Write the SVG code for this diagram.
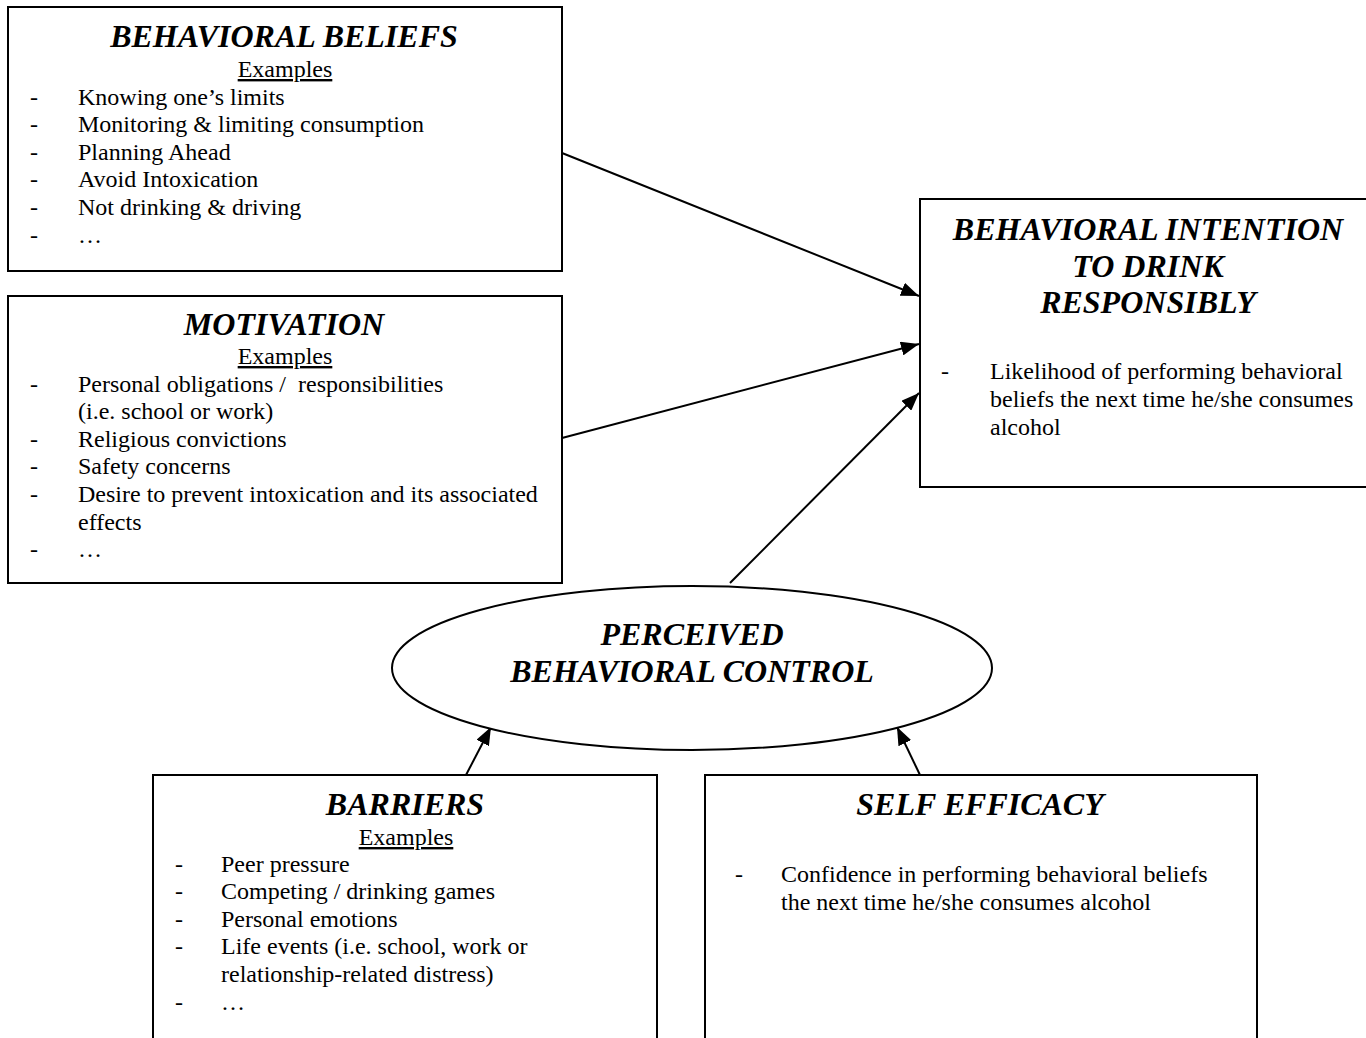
<svg xmlns="http://www.w3.org/2000/svg" width="1366" height="1038" viewBox="0 0 1366 1038">
<style>
.box{fill:#fff;stroke:#000;stroke-width:2}
.t{font-family:"Liberation Serif",serif;font-weight:bold;font-style:italic;font-size:32px;text-anchor:middle}
.b{font-family:"Liberation Serif",serif;font-size:24px}
.ex{font-family:"Liberation Serif",serif;font-size:24px;text-anchor:middle;text-decoration:underline}
.c{stroke:#000;stroke-width:2;fill:none;marker-end:url(#ah)}
</style>
<defs>
<marker id="ah" markerWidth="18" markerHeight="14" refX="18" refY="7" orient="auto" markerUnits="userSpaceOnUse" viewBox="0 0 18 14">
<path d="M0,0 L18,7 L0,14 Z" fill="#000"/>
</marker>
</defs>
<rect width="1366" height="1038" fill="#fff"/>
<g id="connectors">
<line class="c" x1="562" y1="153" x2="919" y2="296"/>
<line class="c" x1="562" y1="438" x2="919" y2="344"/>
<line class="c" x1="730" y1="583" x2="919" y2="393"/>
<line class="c" x1="466" y1="775" x2="491" y2="727"/>
<line class="c" x1="920" y1="775" x2="897" y2="727"/>
</g>
<g id="behavioral-beliefs">
<rect class="box" x="8" y="7" width="554" height="264"/>
<text class="t" x="284" y="47">BEHAVIORAL BELIEFS</text>
<text class="ex" x="285" y="77">Examples</text>
<g class="b">
<text x="30" y="105">-</text><text x="78" y="105">Knowing one’s limits</text>
<text x="30" y="132">-</text><text x="78" y="132">Monitoring &amp; limiting consumption</text>
<text x="30" y="160">-</text><text x="78" y="160">Planning Ahead</text>
<text x="30" y="187">-</text><text x="78" y="187">Avoid Intoxication</text>
<text x="30" y="215">-</text><text x="78" y="215">Not drinking &amp; driving</text>
<text x="30" y="243">-</text><text x="78" y="243">…</text>
</g>
</g>
<g id="motivation">
<rect class="box" x="8" y="296" width="554" height="287"/>
<text class="t" x="284" y="335">MOTIVATION</text>
<text class="ex" x="285" y="364">Examples</text>
<g class="b">
<text x="30" y="392">-</text><text x="78" y="392" xml:space="preserve">Personal obligations /  responsibilities</text>
<text x="78" y="419">(i.e. school or work)</text>
<text x="30" y="447">-</text><text x="78" y="447">Religious convictions</text>
<text x="30" y="474">-</text><text x="78" y="474">Safety concerns</text>
<text x="30" y="502">-</text><text x="78" y="502">Desire to prevent intoxication and its associated</text>
<text x="78" y="530">effects</text>
<text x="30" y="557">-</text><text x="78" y="557">…</text>
</g>
</g>
<g id="behavioral-intention">
<rect class="box" x="920" y="199" width="460" height="288"/>
<text class="t" x="1148" y="240">BEHAVIORAL INTENTION</text>
<text class="t" x="1148" y="277">TO DRINK</text>
<text class="t" x="1148" y="313">RESPONSIBLY</text>
<g class="b">
<text x="941" y="379">-</text><text x="990" y="379">Likelihood of performing behavioral</text>
<text x="990" y="407">beliefs the next time he/she consumes</text>
<text x="990" y="435">alcohol</text>
</g>
</g>
<g id="perceived-behavioral-control">
<ellipse class="box" cx="692" cy="668" rx="300" ry="82"/>
<text class="t" x="692" y="645">PERCEIVED</text>
<text class="t" x="692" y="682">BEHAVIORAL CONTROL</text>
</g>
<g id="barriers">
<rect class="box" x="153" y="775" width="504" height="280"/>
<text class="t" x="405" y="815">BARRIERS</text>
<text class="ex" x="406" y="845">Examples</text>
<g class="b">
<text x="175" y="872">-</text><text x="221" y="872">Peer pressure</text>
<text x="175" y="899">-</text><text x="221" y="899">Competing / drinking games</text>
<text x="175" y="927">-</text><text x="221" y="927">Personal emotions</text>
<text x="175" y="954">-</text><text x="221" y="954">Life events (i.e. school, work or</text>
<text x="221" y="982">relationship-related distress)</text>
<text x="175" y="1010">-</text><text x="221" y="1010">…</text>
</g>
</g>
<g id="self-efficacy">
<rect class="box" x="705" y="775" width="552" height="280"/>
<text class="t" x="980" y="815">SELF EFFICACY</text>
<g class="b">
<text x="735" y="882">-</text><text x="781" y="882">Confidence in performing behavioral beliefs</text>
<text x="781" y="910">the next time he/she consumes alcohol</text>
</g>
</g>
</svg>
